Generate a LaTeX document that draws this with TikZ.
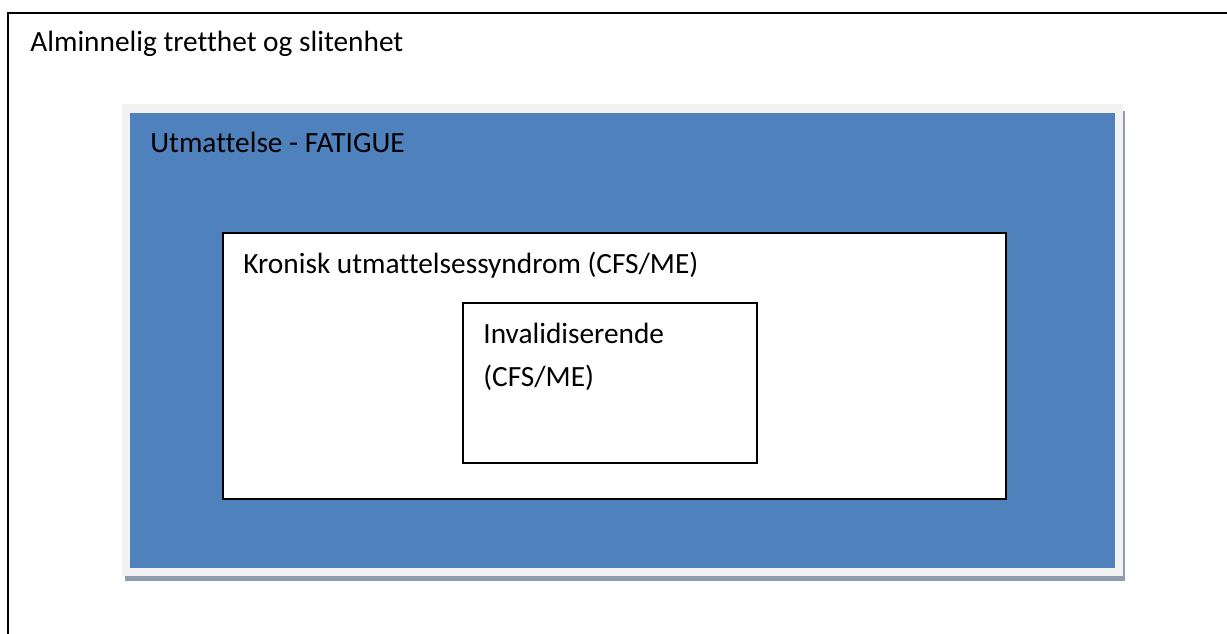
\documentclass[tikz,border=0pt]{standalone}
\usepackage{fontspec}
\setmainfont{Carlito}[RawFeature={-liga}]
\colorlet{frame edge}{black}
\definecolor{fatigue blue}{HTML}{4F81BD}
\definecolor{fatigue rim}{HTML}{F2F2F2}
\definecolor{fatigue shadow}{HTML}{8E9CAE}
\tikzset{
  label text/.style={anchor=base west, inner sep=0pt, font=\fontsize{16.7}{25}\selectfont},
  white box/.style={draw=black, fill=white, line width=0.8pt}
  }
\tikzstyle{rim} = [fill=fatigue rim]
\tikzstyle{shadow} = [fill=fatigue shadow]

\begin{document}
\begin{tikzpicture}[x=0.02cm, y=-0.02cm]
  \useasboundingbox (0,0) rectangle (1227,633);
  \clip (0,0) rectangle (1227,633);

  % The outer frame, cut off by the page
  \draw[frame edge, line width=1.2pt] (8,700) -- (8,13) -- (1300,13);
  \node[label text] (general) at (30,51) {Alminnelig tretthet og slitenhet};

  % The blue box with its rim and shadow
  \path[shadow] (125,111) rectangle (1125,581);
  \path[rim] (122,104) rectangle (1123,576);
  \path[fill=fatigue blue] (130,113) rectangle (1115,568);
  \node[label text] (fatigue) at (150,152) {Utmattelse - FATIGUE};

  % The boxes inside it
  \draw[white box] (223,233) rectangle (1006,499);
  \node[label text] (cfs) at (243,273) {Kronisk utmattelsessyndrom (CFS/ME)};
  \draw[white box] (463,303) rectangle (757,463);
  \node[label text] (severe) at (483,343) {Invalidiserende};
  \node[label text] (severe2) at (483,386) {(CFS/ME)};
\end{tikzpicture}
\end{document}
